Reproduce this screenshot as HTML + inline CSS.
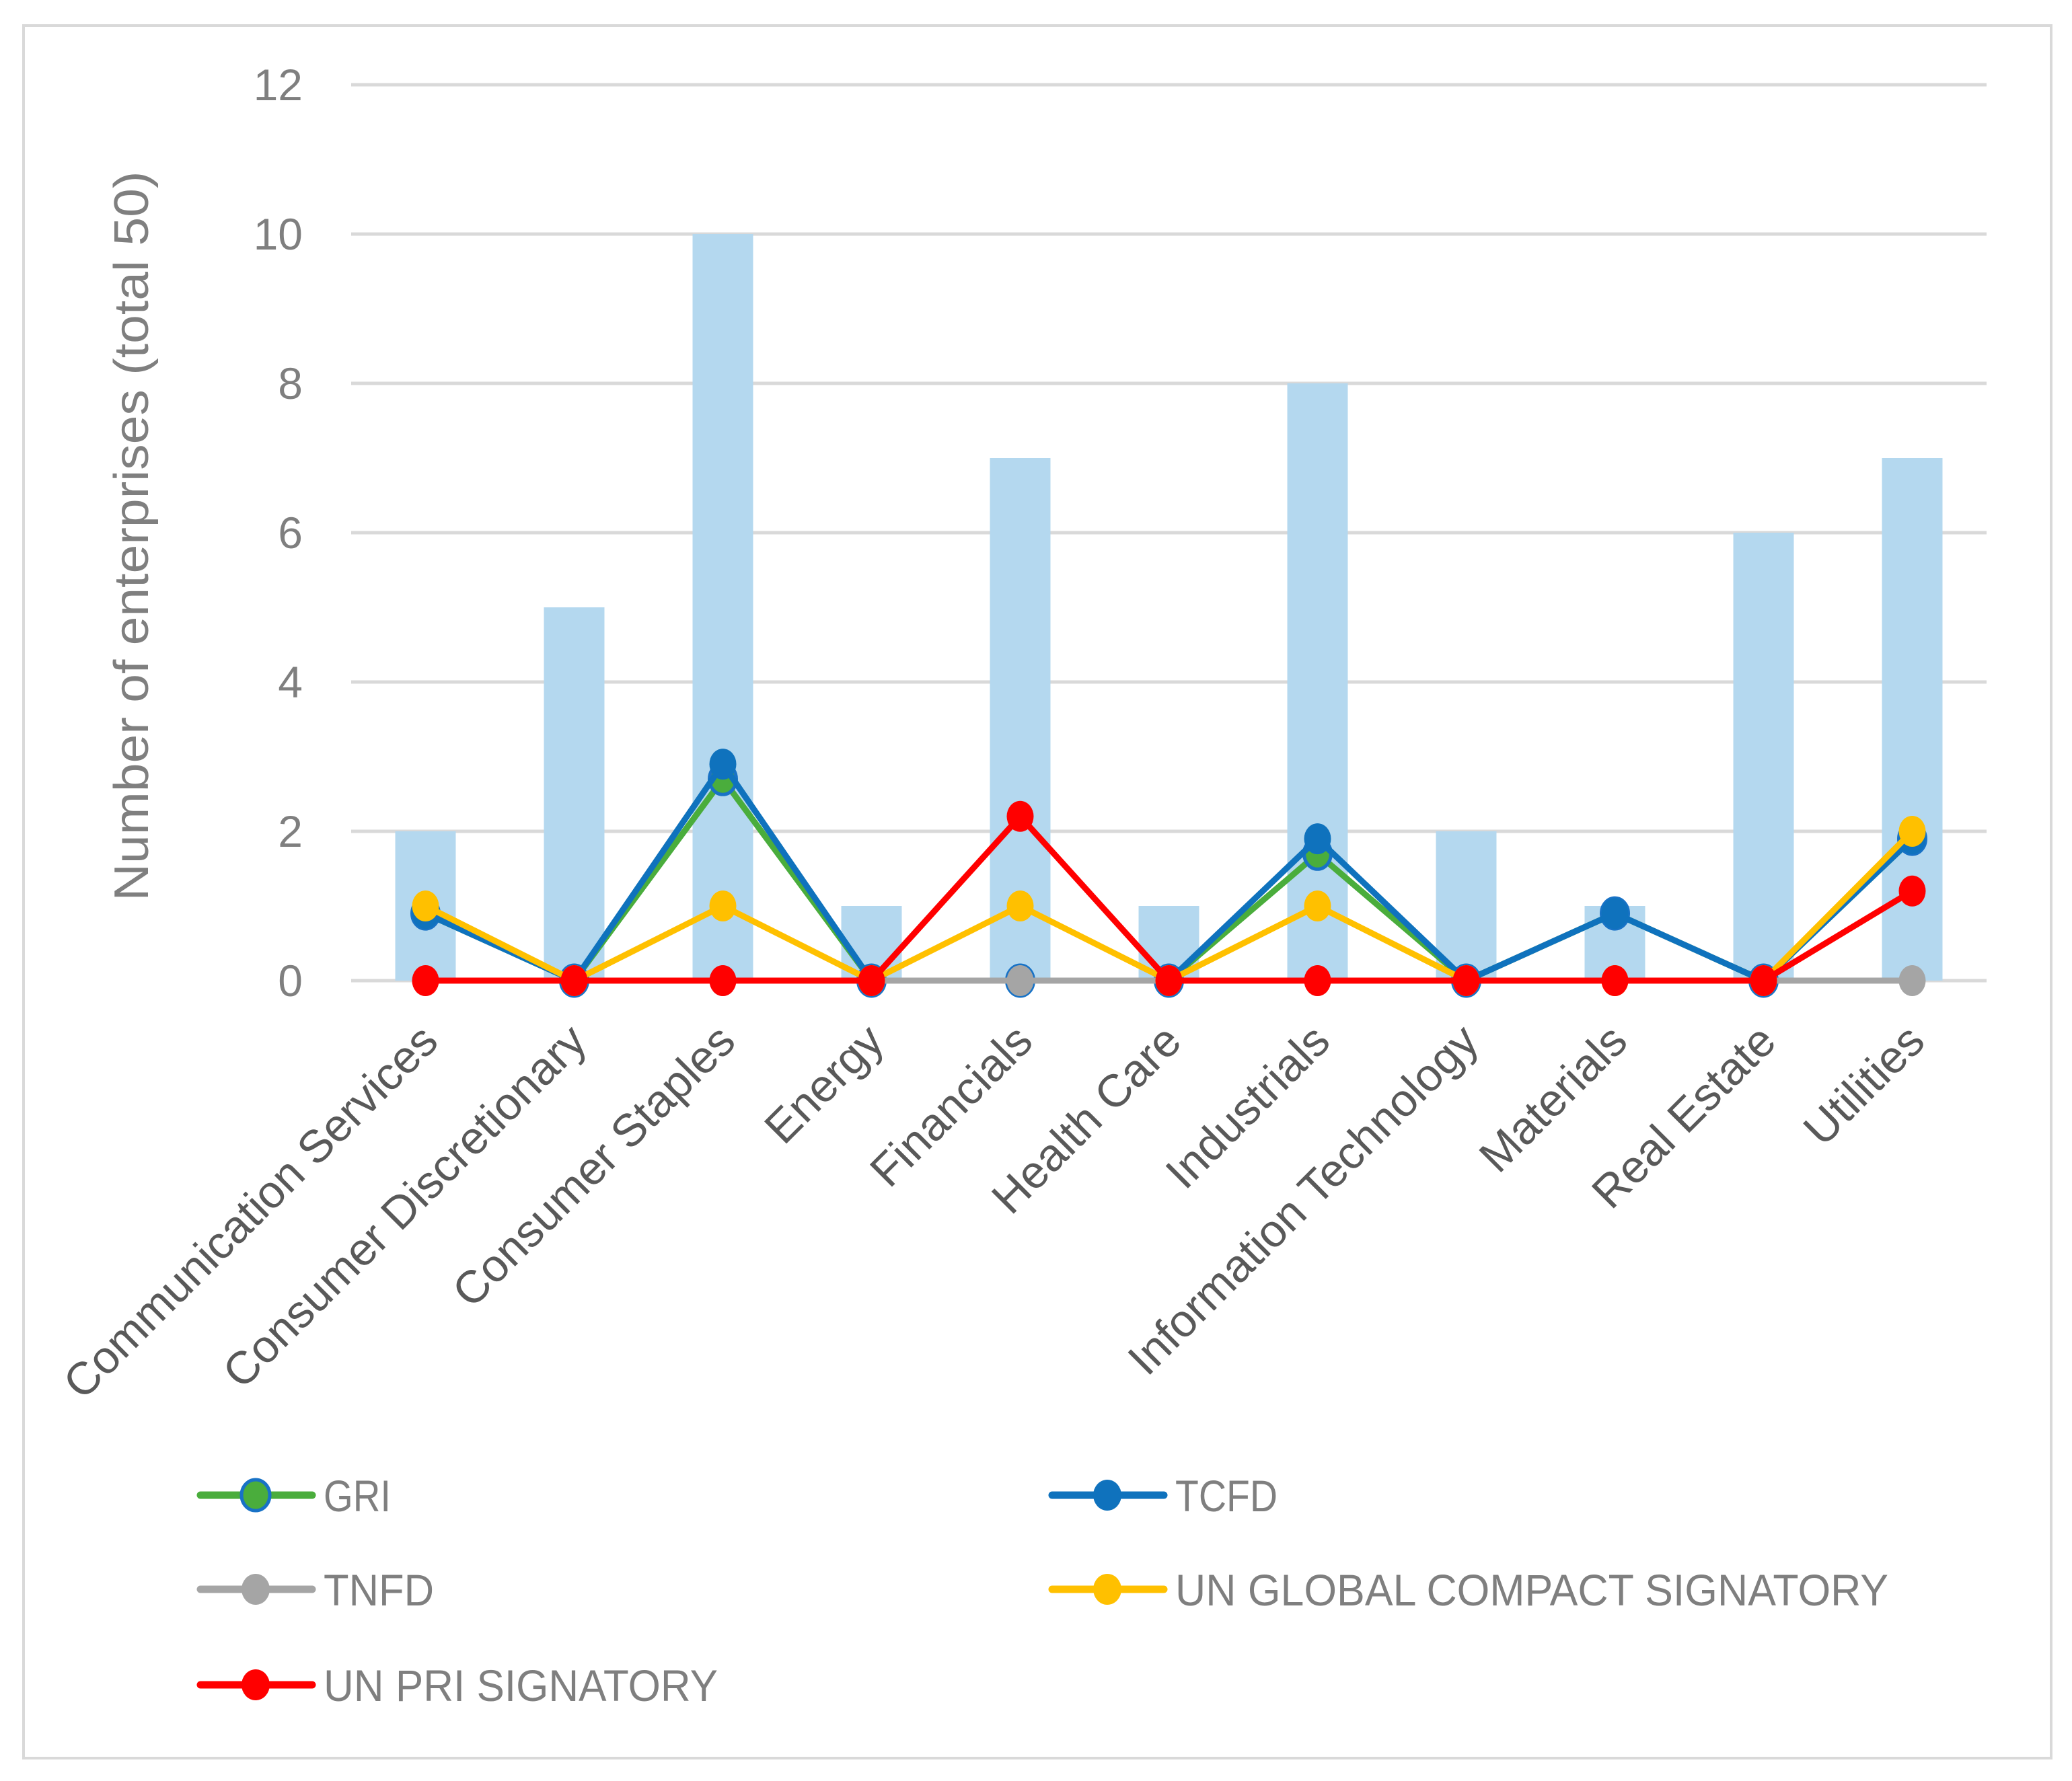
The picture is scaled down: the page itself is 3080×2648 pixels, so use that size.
<!DOCTYPE html>
<html><head><meta charset="utf-8"><style>
html,body{margin:0;padding:0;background:#fff;}
svg{display:block;font-family:"Liberation Sans",sans-serif;}
</style></head><body>
<svg id="chart" width="3080" height="2648" viewBox="0 0 3080 2648">
<rect x="35" y="38" width="3014" height="2576" fill="#fff" stroke="#d9d9d9" stroke-width="4"/>
<g id="grid"></g><g id="bars"></g><g id="lines"></g><g id="xlabels"></g><g id="legend"></g>
<text x="220" y="797" transform="rotate(-90 220 797)" text-anchor="middle" font-size="72" textLength="1085" lengthAdjust="spacingAndGlyphs" fill="#7f7f7f">Number of enterprises (total 50)</text>
</svg>
<script>
const categories=["Communication Services","Consumer Discretionary","Consumer Staples","Energy","Financials","Health Care","Industrials","Information Technology","Materials","Real Estate","Utilities"];
const totals=[2,5,10,1,7,1,8,2,1,6,7];
const gri=[0.9,0,2.7,0,0,0,1.7,0,0.9,0,1.9];
const tcfd=[0.9,0,2.9,0,0,0,1.9,0,0.9,0,1.9];
const tnfd=[0,0,0,0,0,0,0,0,0,0,0];
const ungc=[1,0,1,0,1,0,1,0,0,0,2];
const unpri=[0,0,0,0,2.2,0,0,0,0,0,1.2];
const yTicks=[0,2,4,6,8,10,12];
const seriesNames=["GRI","TCFD","TNFD","UN GLOBAL COMPACT SIGNATORY","UN PRI SIGNATORY"];

const NS="http://www.w3.org/2000/svg";
const X0=522,X1=2953,Y0=1458,Y12=126;
const step=(X1-X0)/categories.length;
const xs=i=>X0+step*(i+0.5);
const ys=v=>Y0-(Y0-Y12)*v/12;
function mk(tag,attrs,parent){const e=document.createElementNS(NS,tag);for(const k in attrs)e.setAttribute(k,attrs[k]);parent.appendChild(e);return e;}
const grid=document.getElementById('grid');
yTicks.forEach(t=>{
  const l=mk('line',{x1:X0,x2:X1,y1:ys(t),y2:ys(t),stroke:'#d9d9d9','stroke-width':5},grid);
  
  
  const tx=mk('text',{x:450,y:ys(t)+23,'text-anchor':'end','font-size':66,fill:'#7f7f7f'},grid);
  tx.textContent=t;
  
  
});
const bars=document.getElementById('bars');
totals.forEach((v,i)=>{
  const r=mk('rect',{x:xs(i)-45,y:ys(v),width:90,height:Y0-ys(v),fill:'#b4d8ef'},bars);
  
  
});
const series=[[gri,'#4aad3c','#1872c6'],[tcfd,'#0f72bd','#0f72bd'],[tnfd,'#a5a5a5','#a5a5a5'],[ungc,'#ffc000','#ffc000'],[unpri,'#ff0000','#ff0000']];
const lines=document.getElementById('lines');
series.forEach((s,si)=>{
  const g=mk('g',{},lines);
  
  
  const pts=s[0].map((v,i)=>xs(i)+','+ys(v)).join(' ');
  mk('polyline',{points:pts,fill:'none',stroke:s[1],'stroke-width':9,'stroke-linejoin':'round'},g);
  s[0].forEach((v,i)=>{
    const c=mk('ellipse',{cx:xs(i),cy:ys(v),rx:20,ry:23,fill:s[1],stroke:s[2],'stroke-width':si===0?5:0},g);
    
    
  });
});
const xl=document.getElementById('xlabels');
categories.forEach((c,i)=>{
  const x=xs(i)+22,y=1552;
  const t=mk('text',{x:x,y:y,'text-anchor':'end','font-size':68,fill:'#595959',transform:`rotate(-45 ${x} ${y})`},xl);
  t.textContent=c;
  
  
});
const lg=document.getElementById('legend');
const lpos=[[294,2223],[1560,2223],[294,2363],[1560,2363],[294,2505]];
const lens=[100,152,164,1060,586];
series.forEach((s,si)=>{
  const [x,y]=lpos[si];
  const g=mk('g',{},lg);
  
  
  mk('line',{x1:x+4,x2:x+170,y1:y,y2:y,stroke:s[1],'stroke-width':11,'stroke-linecap':'round'},g);
  mk('ellipse',{cx:x+86,cy:y,rx:21,ry:23,fill:s[1],stroke:s[2],'stroke-width':si===0?5:0},g);
  const t=mk('text',{x:x+187,y:y+24,'font-size':66,fill:'#7f7f7f',textLength:lens[si],lengthAdjust:'spacingAndGlyphs'},g);
  t.textContent=seriesNames[si];
});
</script>
</body></html>
